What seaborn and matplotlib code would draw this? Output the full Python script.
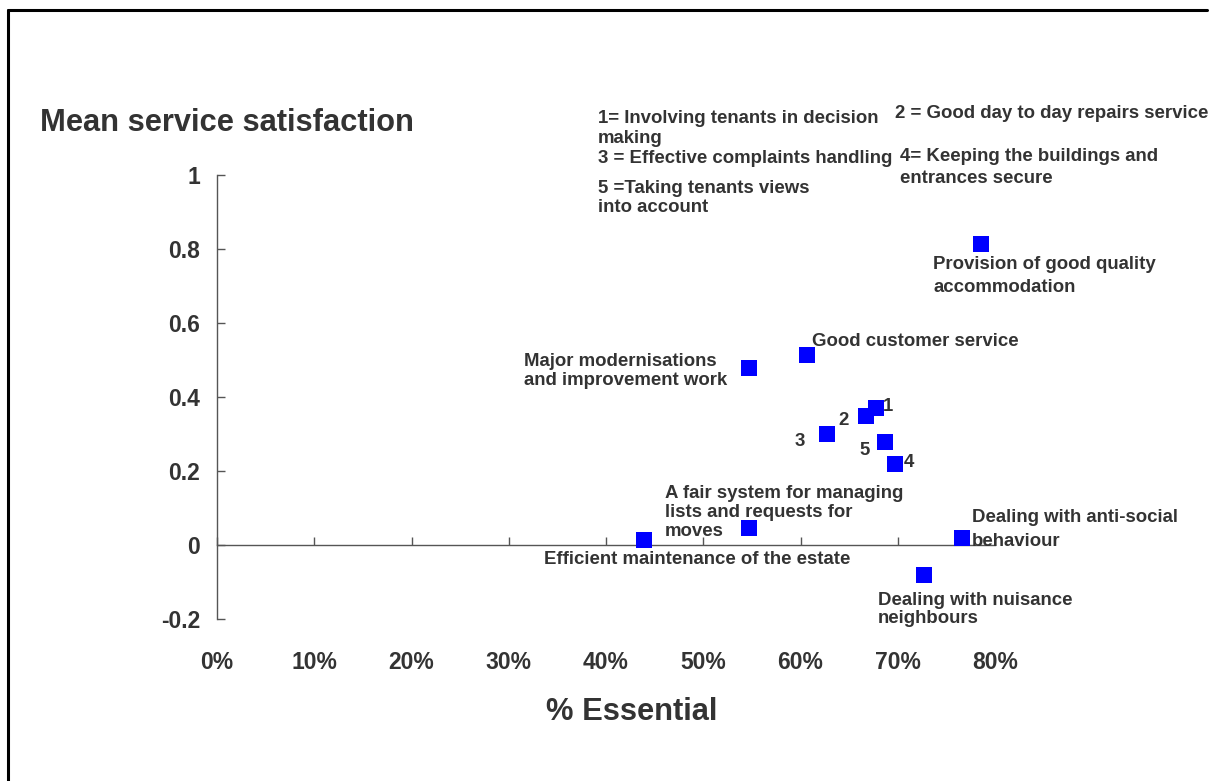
import matplotlib
matplotlib.use("Agg")
import matplotlib.pyplot as plt
import seaborn as sns
import pandas as pd
from matplotlib.lines import Line2D
from matplotlib.ticker import PercentFormatter

# ---- data ----
labels = ["Provision of good quality\naccommodation", "Good customer service",
          "Major modernisations\nand improvement work", "1", "2", "3", "5", "4",
          "A fair system for managing\nlists and requests for\nmoves",
          "Efficient maintenance of the estate",
          "Dealing with anti-social\nbehaviour",
          "Dealing with nuisance\nneighbours"]
pct_essential = [0.786, 0.607, 0.547, 0.678, 0.667, 0.627, 0.687, 0.697,
                 0.547, 0.439, 0.766, 0.727]
mean_satisfaction = [0.814, 0.514, 0.478, 0.370, 0.349, 0.300, 0.278, 0.219,
                     0.045, 0.013, 0.019, -0.081]
x_ticks = [0, 0.1, 0.2, 0.3, 0.4, 0.5, 0.6, 0.7, 0.8]
y_ticks = [-0.2, 0, 0.2, 0.4, 0.6, 0.8, 1]
key_texts = ["1= Involving tenants in decision\nmaking",
             "3 = Effective complaints handling",
             "5 =Taking tenants views\ninto account",
             "2 = Good day to day repairs service",
             "4= Keeping the buildings and\nentrances secure"]

# ---- layout / styles (pixels) ----
label_offsets = [(-48, -12, 'left', 'top', 1.45), (5, 22, 'left', 'top', 1.2),
                 (-22, 15, 'right', 'top', 1.15), (7, 2, 'left', 'center', 1.2),
                 (-17, -5, 'right', 'center', 1.2), (-22, -8, 'right', 'center', 1.2),
                 (-15, -8, 'right', 'center', 1.2), (9, 1, 'left', 'center', 1.2),
                 (-84, 43, 'left', 'top', 1.15), (-100, -11, 'left', 'top', 1.2),
                 (10, 29, 'left', 'top', 1.55), (-46, -17, 'left', 'top', 1.1)]
key_pos = [(598, 110, 1.2), (598, 150, 1.2), (598, 180, 1.15), (895, 105, 1.2), (900, 148, 1.4)]

sns.set_theme(style="white")
plt.rcParams['font.family'] = ['Liberation Sans', 'DejaVu Sans']
plt.rcParams['font.weight'] = 'bold'
TXT = '#333333'
LBL = 13.4

W, H = 1210, 781
fig = plt.figure(figsize=(W / 100, H / 100), dpi=100)
fig.patch.set_facecolor('white')
ax = fig.add_axes([217 / W, 1 - 619 / H, (995 - 217) / W, (619 - 175) / H])
ax.set_facecolor('white')

df = pd.DataFrame({"x": pct_essential, "y": mean_satisfaction})
sns.scatterplot(data=df, x="x", y="y", marker='s', s=135, color='#0000ff',
                edgecolor='none', linewidth=0, ax=ax, clip_on=False, zorder=3)

ax.set_xlim(0, 0.8)
ax.set_ylim(-0.2, 1.0)
ax.set_xlabel("")
ax.set_ylabel("")
ax.set_xticks(x_ticks)
ax.set_yticks(y_ticks)
ax.xaxis.set_major_formatter(PercentFormatter(1.0, decimals=0))
ax.set_yticklabels([("%g" % v) for v in y_ticks])

for s in ['top', 'right']:
    ax.spines[s].set_visible(False)
ax.spines['bottom'].set_position(('data', 0))
ax.spines['bottom'].set_color('#555555')
ax.spines['left'].set_color('#555555')
ax.spines['bottom'].set_linewidth(1.0)
ax.spines['left'].set_linewidth(1.0)

ax.tick_params(axis='x', direction='in', length=6, width=1, color='#555555',
               pad=76, labelsize=16.5, labelcolor=TXT, bottom=True)
ax.tick_params(axis='y', direction='in', length=6, width=1, color='#555555',
               pad=12, labelsize=16.5, labelcolor=TXT, left=True)
for t in ax.get_xticklabels() + ax.get_yticklabels():
    t.set_fontweight('bold')

for (lab, xv, yv, (dx, dy, ha, va, ls)) in zip(labels, pct_essential, mean_satisfaction, label_offsets):
    ax.annotate(lab, xy=(xv, yv), xytext=(dx, dy), textcoords='offset pixels',
                ha=ha, va=va, multialignment='left', linespacing=ls,
                fontsize=LBL, fontweight='bold', color=TXT, zorder=4)

for txt, (px, py, ls) in zip(key_texts, key_pos):
    fig.text(px / W, 1 - py / H, txt, ha='left', va='top', fontsize=LBL,
             fontweight='bold', color=TXT, linespacing=ls)

fig.text(40 / W, 1 - 123 / H, "Mean service satisfaction", ha='left', va='center',
         fontsize=22.2, fontweight='bold', color=TXT)
fig.text(632 / W, 1 - 712 / H, "% Essential", ha='center', va='center',
         fontsize=22.2, fontweight='bold', color=TXT)

# outer frame
fig.add_artist(Line2D([8 / W, 8 / W], [0, 1 - 10 / H], transform=fig.transFigure,
                      color='black', lw=2.2))
fig.add_artist(Line2D([8 / W, 1207 / W], [1 - 10 / H, 1 - 10 / H], transform=fig.transFigure,
                      color='black', lw=2.2))

fig.savefig("out.png", dpi=100, facecolor='white')
